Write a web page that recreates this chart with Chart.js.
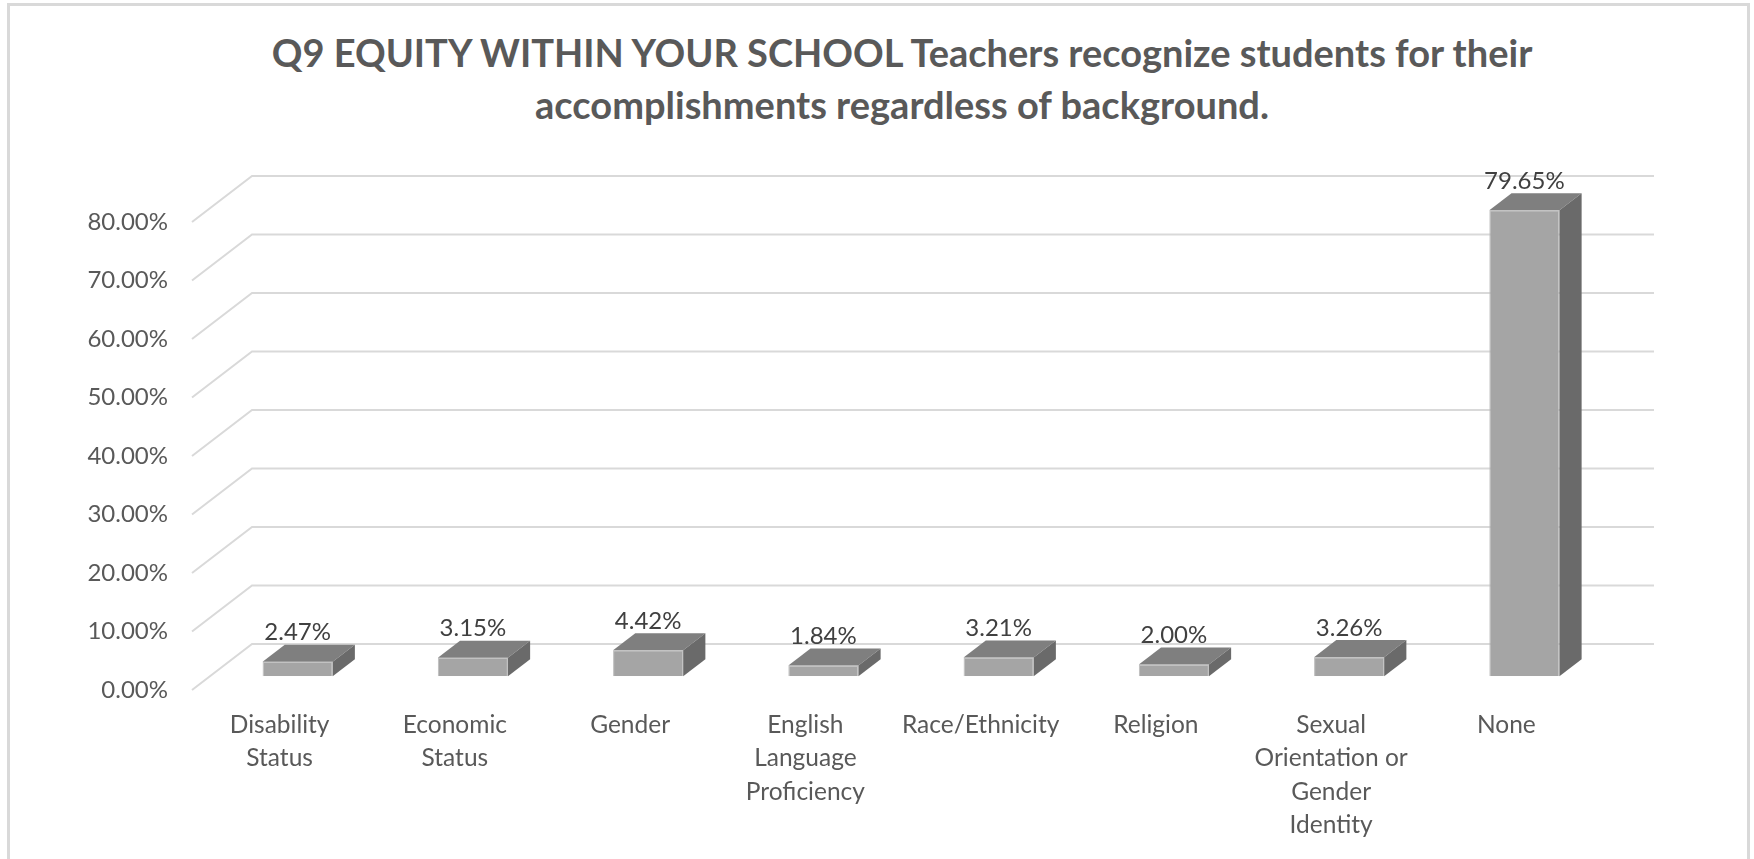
<!DOCTYPE html>
<html>
<head>
<meta charset="utf-8">
<script src="https://cdn.jsdelivr.net/npm/chart.js@4.4.0/dist/chart.umd.min.js"></script>
<style>
  html, body { margin: 0; padding: 0; background: #fff; overflow: hidden; }
  body { width: 1754px; height: 859px; position: relative; font-family: Lato, "Open Sans", sans-serif; }
  .frame { position: absolute; left: 7px; top: 3px; width: 1743px; height: 900px; border: 3px solid #d9d9d9; box-sizing: border-box; }
  .title { position: absolute; left: 50px; width: 1704px; top: 27px; text-align: center; font-weight: bold; font-size: 38px; line-height: 51.5px; color: #595959; }
  #chart { position: absolute; left: 0; top: 0; }
</style>
</head>
<body>
<div class="frame"></div>
<div class="title">Q9 EQUITY WITHIN YOUR SCHOOL Teachers recognize students for their<br>accomplishments regardless of background.</div>
<canvas id="chart" width="1754" height="859"></canvas>
<script>
const categories = [
  ['Disability', 'Status'],
  ['Economic', 'Status'],
  'Gender',
  ['English', 'Language', 'Proficiency'],
  'Race/Ethnicity',
  'Religion',
  ['Sexual', 'Orientation or', 'Gender', 'Identity'],
  'None'
];
const shares = [2.47, 3.15, 4.42, 1.84, 3.21, 2.00, 3.26, 79.65];
const yMin = 0;
const yMax = 80;
const yStep = 10;

// floor depth: offset from the front edge of the floor to the back wall
const WALL_DX = 60;
const WALL_DY = -46;
// where the bars sit inside that depth (0 = front edge, 1 = back wall)
const BAR_FRONT = 0.3;
const BAR_BACK = 0.67;

const FRONT_COLOR = '#a5a5a5';
const TOP_COLOR = '#7f7f7f';
const SIDE_COLOR = '#6a6a6a';
const FONT = 'Lato, "Open Sans", sans-serif';

const pct = v => Number(v).toFixed(2) + '%';

const depth3d = {
  id: 'depth3d',
  beforeDatasetsDraw(chart) {
    const { ctx, chartArea: a, scales: { y } } = chart;
    ctx.save();
    ctx.strokeStyle = '#d9d9d9';
    ctx.lineWidth = 2;
    y.ticks.forEach(t => {
      const py = y.getPixelForValue(t.value);
      ctx.beginPath();
      ctx.moveTo(a.left, py);
      ctx.lineTo(a.left + WALL_DX, py + WALL_DY);
      ctx.lineTo(a.right + WALL_DX, py + WALL_DY);
      ctx.stroke();
    });
    ctx.restore();
    // push the bar fronts back into the floor
    ctx.save();
    ctx.translate(WALL_DX * BAR_FRONT, WALL_DY * BAR_FRONT);
  },
  afterDatasetsDraw(chart) {
    const { ctx } = chart;
    const dx = WALL_DX * (BAR_BACK - BAR_FRONT);
    const dy = WALL_DY * (BAR_BACK - BAR_FRONT);
    chart.getDatasetMeta(0).data.forEach((bar, i) => {
      const { x, y, base, width } = bar.getProps(['x', 'y', 'base', 'width'], true);
      const l = x - width / 2;
      const r = x + width / 2;

      ctx.fillStyle = TOP_COLOR;
      ctx.beginPath();
      ctx.moveTo(l, y);
      ctx.lineTo(l + dx, y + dy);
      ctx.lineTo(r + dx, y + dy);
      ctx.lineTo(r, y);
      ctx.closePath();
      ctx.fill();

      ctx.fillStyle = SIDE_COLOR;
      ctx.beginPath();
      ctx.moveTo(r, y);
      ctx.lineTo(r + dx, y + dy);
      ctx.lineTo(r + dx, base + dy);
      ctx.lineTo(r, base);
      ctx.closePath();
      ctx.fill();

      ctx.fillStyle = '#404040';
      ctx.font = '24px ' + FONT;
      ctx.textAlign = 'center';
      ctx.textBaseline = 'middle';
      ctx.fillText(pct(shares[i]), x, y + dy - 12);
    });
    ctx.restore();
  }
};

new Chart(document.getElementById('chart'), {
  type: 'bar',
  data: {
    labels: categories,
    datasets: [{
      data: shares,
      backgroundColor: FRONT_COLOR,
      borderColor: '#bdbdbd',
      borderWidth: 1,
      categoryPercentage: 1,
      barPercentage: 0.4
    }]
  },
  options: {
    responsive: false,
    animation: false,
    layout: { padding: { left: 0, right: 160, top: 222, bottom: 0 } },
    plugins: {
      legend: { display: false },
      title: { display: false },
      tooltip: { enabled: false }
    },
    scales: {
      x: {
        grid: { display: false, drawTicks: false },
        border: { display: false },
        ticks: {
          color: '#595959',
          font: { family: FONT, size: 24.5, lineHeight: 1.37 },
          padding: 18,
          maxRotation: 0,
          autoSkip: false
        },
        afterFit(s) { s.height = 169; }
      },
      y: {
        min: yMin,
        max: yMax,
        grid: { display: false, drawTicks: false },
        border: { display: false },
        ticks: {
          stepSize: yStep,
          color: '#595959',
          font: { family: FONT, size: 24 },
          padding: 24,
          callback: v => pct(v)
        },
        afterFit(s) { s.width = 192; }
      }
    }
  },
  plugins: [depth3d]
});
</script>
</body>
</html>
